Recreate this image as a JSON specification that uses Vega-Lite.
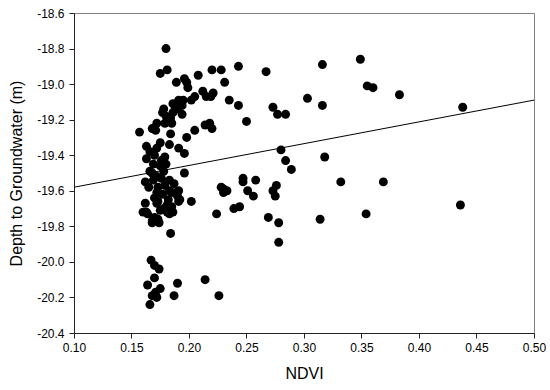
{
  "$schema": "https://vega.github.io/schema/vega-lite/v6.json",
  "width": 460,
  "height": 320,
  "autosize": {"type": "none"},
  "padding": {"left": 74, "top": 13, "right": 16, "bottom": 57},
  "background": "white",
  "config": {
    "font": "Liberation Sans",
    "view": {"stroke": "#808080", "strokeWidth": 1},
    "axis": {"grid": false, "domainColor": "#222222", "tickColor": "#222222", "labelColor": "black", "titleColor": "black", "labelFont": "Liberation Sans", "titleFont": "Liberation Sans", "titleFontWeight": "normal", "labelFontSize": 12, "titleFontSize": 15, "tickSize": 5, "domainWidth": 1, "labelFlush": false, "labelOverlap": false}
  },
  "datasets": {
    "pts": [
      {"ndvi": 0.180, "depth": -18.80}, {"ndvi": 0.175, "depth": -18.94}, {"ndvi": 0.181, "depth": -18.92},
      {"ndvi": 0.189, "depth": -18.99}, {"ndvi": 0.196, "depth": -18.97}, {"ndvi": 0.198, "depth": -18.99},
      {"ndvi": 0.199, "depth": -19.02}, {"ndvi": 0.208, "depth": -18.95}, {"ndvi": 0.220, "depth": -18.92},
      {"ndvi": 0.228, "depth": -18.92}, {"ndvi": 0.243, "depth": -18.90}, {"ndvi": 0.231, "depth": -18.99},
      {"ndvi": 0.212, "depth": -19.04}, {"ndvi": 0.215, "depth": -19.07}, {"ndvi": 0.219, "depth": -19.07},
      {"ndvi": 0.221, "depth": -19.05}, {"ndvi": 0.205, "depth": -19.07}, {"ndvi": 0.202, "depth": -19.09},
      {"ndvi": 0.235, "depth": -19.09}, {"ndvi": 0.243, "depth": -19.12}, {"ndvi": 0.250, "depth": -19.21},
      {"ndvi": 0.195, "depth": -19.09}, {"ndvi": 0.191, "depth": -19.09}, {"ndvi": 0.186, "depth": -19.11},
      {"ndvi": 0.194, "depth": -19.12}, {"ndvi": 0.190, "depth": -19.14}, {"ndvi": 0.178, "depth": -19.14},
      {"ndvi": 0.177, "depth": -19.16}, {"ndvi": 0.186, "depth": -19.16}, {"ndvi": 0.184, "depth": -19.19},
      {"ndvi": 0.194, "depth": -19.17}, {"ndvi": 0.172, "depth": -19.22}, {"ndvi": 0.179, "depth": -19.22},
      {"ndvi": 0.185, "depth": -19.22}, {"ndvi": 0.168, "depth": -19.25}, {"ndvi": 0.171, "depth": -19.26},
      {"ndvi": 0.157, "depth": -19.27}, {"ndvi": 0.184, "depth": -19.28}, {"ndvi": 0.198, "depth": -19.30},
      {"ndvi": 0.205, "depth": -19.26}, {"ndvi": 0.214, "depth": -19.23}, {"ndvi": 0.218, "depth": -19.22},
      {"ndvi": 0.220, "depth": -19.25}, {"ndvi": 0.180, "depth": -19.18}, {"ndvi": 0.188, "depth": -19.13},
      {"ndvi": 0.182, "depth": -19.20},
      {"ndvi": 0.175, "depth": -19.33}, {"ndvi": 0.163, "depth": -19.35}, {"ndvi": 0.183, "depth": -19.34},
      {"ndvi": 0.191, "depth": -19.36}, {"ndvi": 0.196, "depth": -19.39}, {"ndvi": 0.163, "depth": -19.42},
      {"ndvi": 0.170, "depth": -19.40}, {"ndvi": 0.179, "depth": -19.41}, {"ndvi": 0.169, "depth": -19.45},
      {"ndvi": 0.175, "depth": -19.46}, {"ndvi": 0.166, "depth": -19.49}, {"ndvi": 0.196, "depth": -19.50},
      {"ndvi": 0.162, "depth": -19.55}, {"ndvi": 0.169, "depth": -19.54}, {"ndvi": 0.176, "depth": -19.53},
      {"ndvi": 0.183, "depth": -19.54}, {"ndvi": 0.173, "depth": -19.58}, {"ndvi": 0.179, "depth": -19.57},
      {"ndvi": 0.172, "depth": -19.61}, {"ndvi": 0.185, "depth": -19.61}, {"ndvi": 0.191, "depth": -19.60},
      {"ndvi": 0.192, "depth": -19.65}, {"ndvi": 0.182, "depth": -19.65}, {"ndvi": 0.202, "depth": -19.66},
      {"ndvi": 0.162, "depth": -19.67}, {"ndvi": 0.173, "depth": -19.66}, {"ndvi": 0.185, "depth": -19.69},
      {"ndvi": 0.163, "depth": -19.72}, {"ndvi": 0.175, "depth": -19.71}, {"ndvi": 0.181, "depth": -19.72},
      {"ndvi": 0.170, "depth": -19.75}, {"ndvi": 0.168, "depth": -19.77}, {"ndvi": 0.173, "depth": -19.76},
      {"ndvi": 0.160, "depth": -19.72}, {"ndvi": 0.164, "depth": -19.73}, {"ndvi": 0.168, "depth": -19.78},
      {"ndvi": 0.174, "depth": -19.78}, {"ndvi": 0.183, "depth": -19.73}, {"ndvi": 0.186, "depth": -19.72},
      {"ndvi": 0.191, "depth": -19.66}, {"ndvi": 0.189, "depth": -19.61}, {"ndvi": 0.172, "depth": -19.67},
      {"ndvi": 0.183, "depth": -19.60}, {"ndvi": 0.181, "depth": -19.68}, {"ndvi": 0.184, "depth": -19.84},
      {"ndvi": 0.166, "depth": -19.38}, {"ndvi": 0.172, "depth": -19.36}, {"ndvi": 0.176, "depth": -19.43},
      {"ndvi": 0.168, "depth": -19.50}, {"ndvi": 0.172, "depth": -19.52}, {"ndvi": 0.178, "depth": -19.49},
      {"ndvi": 0.180, "depth": -19.45}, {"ndvi": 0.165, "depth": -19.58}, {"ndvi": 0.177, "depth": -19.62},
      {"ndvi": 0.170, "depth": -19.64}, {"ndvi": 0.178, "depth": -19.70}, {"ndvi": 0.187, "depth": -19.56},
      {"ndvi": 0.190, "depth": -19.63},
      {"ndvi": 0.230, "depth": -19.59}, {"ndvi": 0.233, "depth": -19.60}, {"ndvi": 0.228, "depth": -19.58},
      {"ndvi": 0.230, "depth": -19.61}, {"ndvi": 0.247, "depth": -19.53}, {"ndvi": 0.247, "depth": -19.55},
      {"ndvi": 0.251, "depth": -19.60}, {"ndvi": 0.256, "depth": -19.63}, {"ndvi": 0.258, "depth": -19.54},
      {"ndvi": 0.224, "depth": -19.73}, {"ndvi": 0.239, "depth": -19.70}, {"ndvi": 0.244, "depth": -19.69},
      {"ndvi": 0.167, "depth": -19.99}, {"ndvi": 0.170, "depth": -20.02}, {"ndvi": 0.174, "depth": -20.04},
      {"ndvi": 0.170, "depth": -20.09}, {"ndvi": 0.164, "depth": -20.13}, {"ndvi": 0.175, "depth": -20.15},
      {"ndvi": 0.171, "depth": -20.17}, {"ndvi": 0.168, "depth": -20.19}, {"ndvi": 0.172, "depth": -20.20},
      {"ndvi": 0.166, "depth": -20.24}, {"ndvi": 0.190, "depth": -20.12}, {"ndvi": 0.187, "depth": -20.19},
      {"ndvi": 0.214, "depth": -20.10}, {"ndvi": 0.226, "depth": -20.19},
      {"ndvi": 0.267, "depth": -18.93}, {"ndvi": 0.316, "depth": -18.89}, {"ndvi": 0.349, "depth": -18.86},
      {"ndvi": 0.355, "depth": -19.01}, {"ndvi": 0.360, "depth": -19.02}, {"ndvi": 0.383, "depth": -19.06},
      {"ndvi": 0.303, "depth": -19.08}, {"ndvi": 0.273, "depth": -19.13}, {"ndvi": 0.277, "depth": -19.17},
      {"ndvi": 0.284, "depth": -19.17}, {"ndvi": 0.316, "depth": -19.12}, {"ndvi": 0.438, "depth": -19.13},
      {"ndvi": 0.280, "depth": -19.37}, {"ndvi": 0.284, "depth": -19.43}, {"ndvi": 0.289, "depth": -19.48},
      {"ndvi": 0.318, "depth": -19.41}, {"ndvi": 0.332, "depth": -19.55}, {"ndvi": 0.369, "depth": -19.55},
      {"ndvi": 0.436, "depth": -19.68}, {"ndvi": 0.354, "depth": -19.73}, {"ndvi": 0.314, "depth": -19.76},
      {"ndvi": 0.269, "depth": -19.75}, {"ndvi": 0.278, "depth": -19.78}, {"ndvi": 0.278, "depth": -19.89},
      {"ndvi": 0.276, "depth": -19.57}, {"ndvi": 0.273, "depth": -19.60}, {"ndvi": 0.275, "depth": -19.63}
    ],
    "fit": [
      {"ndvi": 0.10, "depth": -19.58},
      {"ndvi": 0.50, "depth": -19.09}
    ]
  },
  "layer": [
    {
      "data": {"name": "fit"},
      "mark": {"type": "line", "color": "black", "strokeWidth": 1, "clip": true},
      "encoding": {
        "x": {"field": "ndvi", "type": "quantitative"},
        "y": {"field": "depth", "type": "quantitative"}
      }
    },
    {
      "data": {"name": "pts"},
      "mark": {"type": "circle", "color": "black", "opacity": 1, "size": 80},
      "encoding": {
        "x": {
          "field": "ndvi", "type": "quantitative",
          "scale": {"domain": [0.1, 0.5], "nice": false, "zero": false},
          "axis": {"title": "NDVI", "values": [0.1, 0.15, 0.2, 0.25, 0.3, 0.35, 0.4, 0.45, 0.5], "tickCount": 20, "format": ".2f", "labelPadding": 4, "titlePadding": 12, "titleFontSize": 16, "labelOverlap": false, "labelFlush": false}
        },
        "y": {
          "field": "depth", "type": "quantitative",
          "scale": {"domain": [-20.4, -18.6], "nice": false, "zero": false},
          "axis": {"title": "Depth to Groundwater (m)", "values": [-20.4, -20.2, -20.0, -19.8, -19.6, -19.4, -19.2, -19.0, -18.8, -18.6], "tickCount": 20, "labelExpr": "replace(format(datum.value, '.1f'), '\u2212', '-')", "labelPadding": 5, "titlePadding": 12, "titleFontSize": 16, "labelOverlap": false, "labelFlush": false}
        }
      }
    }
  ]
}
